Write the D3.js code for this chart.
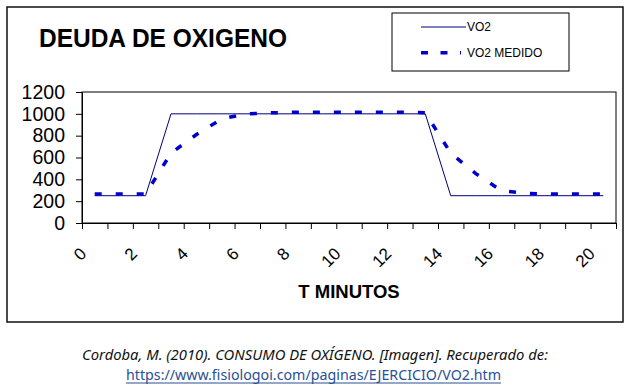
<!DOCTYPE html>
<html>
<head>
<meta charset="utf-8">
<script src="https://cdn.jsdelivr.net/npm/d3@7"></script>
<style>
  html, body { margin: 0; padding: 0; background: #fff; }
  svg { display: block; }
</style>
</head>
<body>
<svg id="chart" width="640" height="391"></svg>
<script>
"use strict";

/* ── Data ──────────────────────────────────────────────────────────── */

const MINUTES    = [0.5, 1.5, 2.5, 3.5, 4.5, 5.5, 6.5, 7.5, 8.5, 9.5, 10.5,
                    11.5, 12.5, 13.5, 14.5, 15.5, 16.5, 17.5, 18.5, 19.5, 20.5];
const VO2        = [250, 250, 250, 1000, 1000, 1000, 1000, 1000, 1000, 1000, 1000,
                    1000, 1000, 1000, 250, 250, 250, 250, 250, 250, 250];
const VO2_MEDIDO = [265, 265, 265, 640, 810, 955, 1000, 1010, 1015, 1015, 1015,
                    1015, 1015, 1010, 640, 450, 295, 270, 265, 265, 265];

const X_TICKS  = [0, 1, 2, 3, 4, 5, 6, 7, 8, 9, 10, 11, 12, 13, 14, 15, 16, 17, 18, 19, 20, 21];
const X_LABELS = ["0", "", "2", "", "4", "", "6", "", "8", "", "10", "", "12", "",
                  "14", "", "16", "", "18", "", "20", ""];
const Y_TICKS  = [0, 200, 400, 600, 800, 1000, 1200];

const SERIES = [
  { name: "VO2",        values: VO2,        color: "#000080", width: 1,   dash: null },
  { name: "VO2 MEDIDO", values: VO2_MEDIDO, color: "#0000cc", width: 3.5, dash: "7,14" },
];

/* ── Layout ────────────────────────────────────────────────────────── */

const FONT = "'Liberation Sans', Arial, sans-serif";
const plot = { left: 82, right: 616, top: 92, bottom: 223 };

const svg = d3.select("#chart");

const x = d3.scaleLinear().domain([0, 21]).range([plot.left, plot.right]);
const y = d3.scaleLinear().domain([0, 1200]).range([plot.bottom, plot.top]);

/* outer frame */
svg.append("rect")
  .attr("x", 7).attr("y", 7).attr("width", 616).attr("height", 315)
  .attr("fill", "#fff").attr("stroke", "#111").attr("stroke-width", 1.5);

/* title */
svg.append("text")
  .attr("x", 39).attr("y", 47)
  .attr("font-family", FONT).attr("font-weight", "bold").attr("font-size", 25)
  .attr("textLength", 248).attr("lengthAdjust", "spacingAndGlyphs")
  .text("DEUDA DE OXIGENO");

/* plot border */
svg.append("rect")
  .attr("x", plot.left).attr("y", plot.top)
  .attr("width", plot.right - plot.left).attr("height", plot.bottom - plot.top)
  .attr("fill", "none").attr("stroke", "#000").attr("stroke-width", 1);

/* ── Axes ── */

const yAxis = svg.append("g")
  .attr("transform", "translate(" + plot.left + ",0)")
  .call(d3.axisLeft(y).tickValues(Y_TICKS).tickFormat(d3.format("d"))
    .tickSize(6).tickSizeOuter(0).tickPadding(11));
yAxis.attr("font-family", FONT);
yAxis.selectAll("text")
  .attr("font-size", 19.5).attr("fill", "#000");

const xAxis = svg.append("g")
  .attr("transform", "translate(0," + plot.bottom + ")")
  .call(d3.axisBottom(x).tickValues(X_TICKS).tickSize(6).tickSizeOuter(0)
    .tickFormat(function (d, i) { return X_LABELS[i]; }));
xAxis.attr("font-family", FONT);
xAxis.selectAll("text")
  .attr("font-size", 17).attr("fill", "#000")
  .attr("y", null).attr("dy", null)
  .attr("text-anchor", "end")
  .attr("dominant-baseline", "central")
  .attr("transform", "translate(1,28) rotate(-45)");

[yAxis, xAxis].forEach(function (g) {
  g.selectAll("line, path").attr("stroke", "#000").attr("stroke-width", 1);
});

/* axis title */
svg.append("text")
  .attr("x", 349).attr("y", 298)
  .attr("text-anchor", "middle")
  .attr("font-family", FONT).attr("font-weight", "bold").attr("font-size", 18.5)
  .text("T MINUTOS");

/* ── Lines ── */

const line = d3.line()
  .x(function (d, i) { return x(MINUTES[i]); })
  .y(function (d) { return y(d); });

SERIES.forEach(function (s) {
  svg.append("path")
    .datum(s.values)
    .attr("d", line)
    .attr("fill", "none")
    .attr("stroke", s.color)
    .attr("stroke-width", s.width)
    .attr("stroke-dasharray", s.dash);
});

/* ── Legend ── */

const legend = svg.append("g");
legend.append("rect")
  .attr("x", 392).attr("y", 13).attr("width", 177).attr("height", 58)
  .attr("fill", "#fff").attr("stroke", "#000").attr("stroke-width", 1);

SERIES.forEach(function (s, i) {
  const ly = 27 + i * 25.7;
  legend.append("line")
    .attr("x1", 421).attr("x2", i === 0 ? 466 : 461)
    .attr("y1", ly).attr("y2", ly)
    .attr("stroke", s.color)
    .attr("stroke-width", s.width)
    .attr("stroke-dasharray", s.dash ? "7,12.5" : null);
  legend.append("text")
    .attr("x", 467).attr("y", ly)
    .attr("dominant-baseline", "central")
    .attr("font-family", FONT).attr("font-size", 12).attr("fill", "#000")
    .text(s.name);
});

/* ── Source caption ── */

svg.append("text")
  .attr("x", 315).attr("y", 360)
  .attr("text-anchor", "middle")
  .attr("font-family", "'Noto Sans', sans-serif").attr("font-style", "italic")
  .attr("font-size", 14).attr("fill", "#111")
  .attr("textLength", 466).attr("lengthAdjust", "spacingAndGlyphs")
  .text("Cordoba, M. (2010). CONSUMO DE OXÍGENO. [Imagen]. Recuperado de:");

svg.append("text")
  .attr("x", 313.5).attr("y", 380)
  .attr("text-anchor", "middle")
  .attr("font-family", "'Noto Sans', sans-serif")
  .attr("font-size", 14).attr("fill", "#2a5096")
  .attr("textLength", 375).attr("lengthAdjust", "spacingAndGlyphs")
  .text("https://www.fisiologoi.com/paginas/EJERCICIO/VO2.htm");

svg.append("line")
  .attr("x1", 126).attr("x2", 501).attr("y1", 383).attr("y2", 383)
  .attr("stroke", "#2a5096").attr("stroke-width", 1);
</script>
</body>
</html>
